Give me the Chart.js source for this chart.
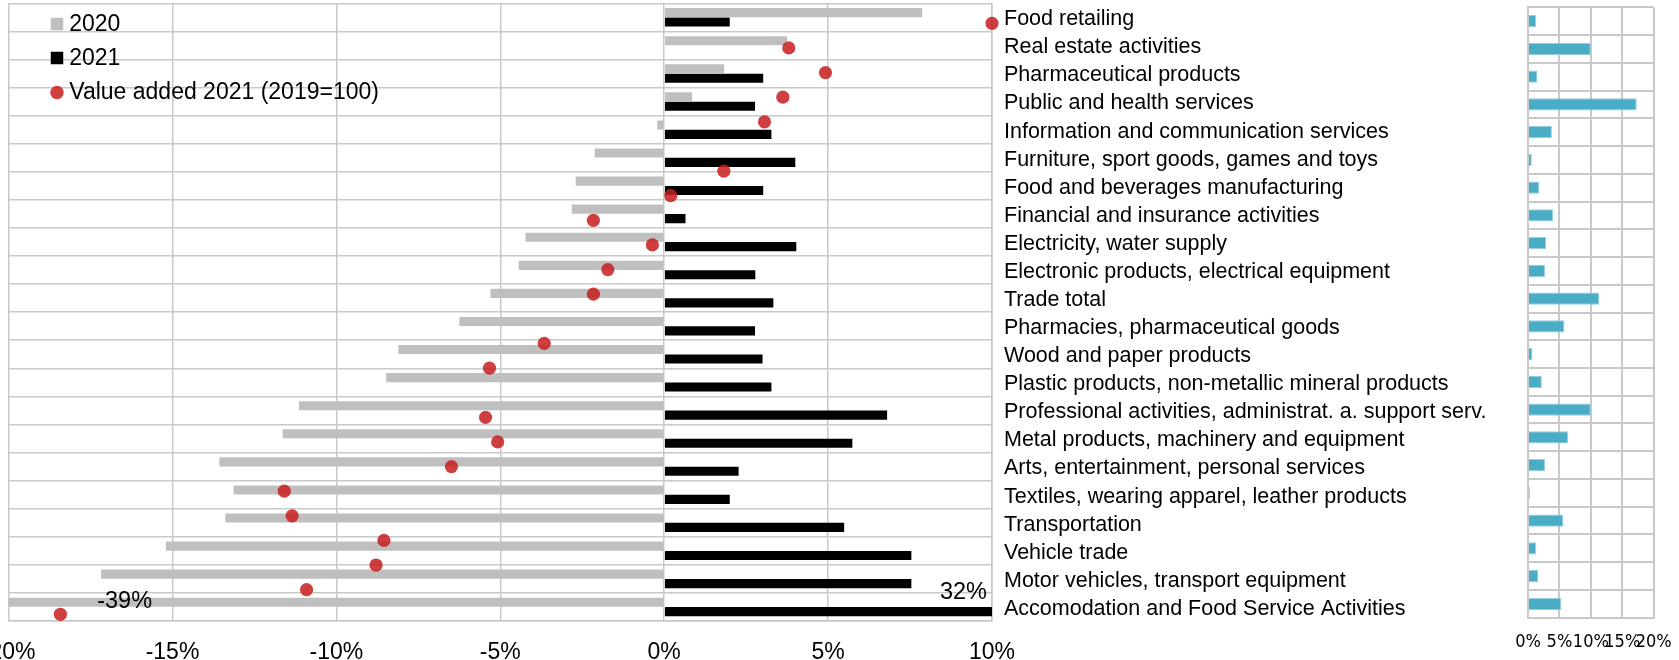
<!DOCTYPE html>
<html>
<head>
<meta charset="utf-8">
<script src="https://cdn.jsdelivr.net/npm/chart.js@4.4.1/dist/chart.umd.min.js"></script>
<style>
  html, body { margin: 0; padding: 0; background: #ffffff; }
  #wrap { position: relative; width: 1679px; height: 660px; overflow: hidden; background: #ffffff; }
  #growth, #valueAdded { position: absolute; left: 0; top: 0; }
  #share { position: absolute; left: 1490px; top: 0; }
</style>
</head>
<body>
<div id="wrap">
  <canvas id="growth" width="1679" height="660"></canvas>
  <canvas id="valueAdded" width="1679" height="660"></canvas>
  <canvas id="share" width="189" height="660"></canvas>
</div>
<script>
// Sectors, top to bottom
const categories = [
  'Food retailing',
  'Real estate activities',
  'Pharmaceutical products',
  'Public and health services',
  'Information and communication services',
  'Furniture, sport goods, games and toys',
  'Food and beverages manufacturing',
  'Financial and insurance activities',
  'Electricity, water supply',
  'Electronic products, electrical equipment',
  'Trade total',
  'Pharmacies, pharmaceutical goods',
  'Wood and paper products',
  'Plastic products, non-metallic mineral products',
  'Professional activities, administrat. a. support serv.',
  'Metal products, machinery and equipment',
  'Arts, entertainment, personal services',
  'Textiles, wearing apparel, leather products',
  'Transportation',
  'Vehicle trade',
  'Motor vehicles, transport equipment',
  'Accomodation and Food Service Activities'
];

// Growth rates in percent
const growth2020 = [7.87, 3.75, 1.83, 0.85, -0.21, -2.12, -2.70, -2.82, -4.23, -4.44, -5.30,
                    -6.25, -8.11, -8.48, -11.14, -11.64, -13.57, -13.14, -13.39, -15.20, -17.18, -39];
const growth2021 = [2.0, 0, 3.02, 2.77, 3.27, 4.0, 3.02, 0.65, 4.03, 2.78, 3.33,
                    2.77, 3.0, 3.27, 6.8, 5.74, 2.27, 2.0, 5.49, 7.54, 7.54, 32];

// Value added 2021 relative to 2019 (index - 100); its row list has three empty rows
const valueAddedRows = [
  'Food retailing', 'Real estate activities', 'Pharmaceutical products', 'Public and health services',
  'Information and communication services', '',
  'Furniture, sport goods, games and toys', 'Food and beverages manufacturing',
  'Financial and insurance activities', 'Electricity, water supply',
  'Electronic products, electrical equipment', 'Trade total', '',
  'Pharmacies, pharmaceutical goods', 'Wood and paper products', '',
  'Plastic products, non-metallic mineral products',
  'Professional activities, administrat. a. support serv.',
  'Metal products, machinery and equipment', 'Arts, entertainment, personal services',
  'Textiles, wearing apparel, leather products', 'Transportation', 'Vehicle trade',
  'Motor vehicles, transport equipment', 'Accomodation and Food Service Activities'
];
const valueAdded2021 = [10.0, 3.80, 4.92, 3.62, 3.06, null,
                        1.82, 0.20, -2.16, -0.36, -1.72, -2.16, null,
                        -3.66, -5.33, null,
                        -5.45, -5.08, -6.49, -11.59, -11.35, -8.55, -8.79, -10.91, -18.42];

// Share of each sector, percent
const shareOfTotal = [1.3, 10.0, 1.5, 17.3, 3.8, 0.6, 1.8, 4.0, 2.9, 2.7, 11.3,
                      5.8, 0.7, 2.2, 10.0, 6.4, 2.7, 0.3, 5.6, 1.3, 1.6, 5.3];

// Axis ranges (tick labels are these values with a % sign)
const growthAxis = { min: -20, max: 10, step: 5 };
const shareAxis = { min: 0, max: 20, step: 5 };

const FONT = "'Liberation Sans', Arial, Helvetica, sans-serif";
const NARROW = "'Liberation Sans Narrow', 'Arial Narrow', 'DejaVu Sans Condensed', sans-serif";
const GRID = '#C9C9C9';

// Plot box of the growth chart (canvas pixels)
const PLOT = { left: 8.6, top: 3.3, right: 992, bottom: 621, width: 1679, height: 660 };
// Vertical extent of the secondary row axis used by the value-added markers
const DOT_AXIS = { top: 11, bottom: 626.6 };

Chart.defaults.font.family = FONT;
Chart.defaults.color = '#000';

// Value labels for bars that run past the axis range
const outOfRangeLabels = {
  id: 'outOfRangeLabels',
  afterDatasetsDraw(chart, args, o) {
    const { ctx, chartArea, scales: { x } } = chart;
    ctx.save();
    ctx.font = `${o.size}px ${FONT}`;
    ctx.fillStyle = '#000';
    ctx.textBaseline = 'alphabetic';
    chart.data.datasets.forEach((ds, di) => {
      const meta = chart.getDatasetMeta(di);
      meta.data.forEach((bar, i) => {
        const v = ds.data[i];
        if (v == null) return;
        const text = `${v}%`;
        if (v > x.max) {
          ctx.textAlign = 'right';
          ctx.fillText(text, chartArea.right - 5, bar.y - bar.height / 2 - 8);
        } else if (v < x.min) {
          ctx.textAlign = 'center';
          ctx.fillText(text, chartArea.left + 116, bar.y + bar.height / 2 + 1);
        }
      });
    });
    ctx.restore();
  }
};

const growthChart = new Chart(document.getElementById('growth'), {
  type: 'bar',
  data: {
    labels: categories,
    datasets: [
      { label: '2020', data: growth2020, backgroundColor: '#BFBFBF',
        barPercentage: 0.97, categoryPercentage: 0.67 },
      { label: '2021', data: growth2021, backgroundColor: '#000000',
        barPercentage: 0.97, categoryPercentage: 0.67 }
    ]
  },
  options: {
    indexAxis: 'y',
    responsive: false,
    animation: false,
    events: [],
    layout: { autoPadding: false, padding: { left: PLOT.left, top: PLOT.top, right: 0, bottom: 0 } },
    plugins: {
      legend: { display: false },
      tooltip: { enabled: false },
      outOfRangeLabels: { size: 23.5 }
    },
    scales: {
      x: {
        min: growthAxis.min, max: growthAxis.max,
        ticks: { stepSize: growthAxis.step, callback: v => `${v}%`, font: { size: 23 },
                 padding: 17.5, maxRotation: 0, autoSkip: false },
        grid: { color: GRID, lineWidth: 1.5, drawTicks: false },
        border: { color: GRID, width: 1.5 },
        afterFit(s) { s.paddingLeft = 0; s.paddingRight = 0; s.height = PLOT.height - PLOT.bottom; }
      },
      y: {
        position: 'right',
        offset: true,
        grid: { offset: true, color: GRID, lineWidth: 1.5, drawTicks: false },
        border: { color: GRID, width: 1.5 },
        ticks: { font: { size: 21.5 }, padding: 12, labelOffset: 2, autoSkip: false },
        afterFit(s) { s.paddingTop = 0; s.paddingBottom = 0; s.width = PLOT.width - PLOT.right; }
      }
    }
  },
  plugins: [outOfRangeLabels]
});

// Legend inside the plot, top-left corner
const cornerLegend = {
  id: 'cornerLegend',
  afterDraw(chart, args, o) {
    const ctx = chart.ctx;
    const items = [...growthChart.data.datasets, ...chart.data.datasets];
    ctx.save();
    ctx.font = `${o.size}px ${FONT}`;
    ctx.textBaseline = 'middle';
    ctx.textAlign = 'left';
    items.forEach((ds, i) => {
      const cy = o.y + i * o.gap;
      const cx = o.x;
      if (ds.type === 'line') {
        ctx.fillStyle = ds.pointBackgroundColor;
        ctx.beginPath();
        ctx.arc(cx, cy + 0.5, o.box / 2 + 0.5, 0, Math.PI * 2);
        ctx.fill();
      } else {
        ctx.fillStyle = ds.backgroundColor;
        ctx.fillRect(cx - o.box / 2, cy - o.box / 2, o.box, o.box);
      }
      ctx.fillStyle = '#000';
      ctx.fillText(ds.label, cx + o.box / 2 + o.textGap, cy + 1);
    });
    ctx.restore();
  }
};

// Value-added markers: same x scale as the bars, own row axis
new Chart(document.getElementById('valueAdded'), {
  type: 'line',
  data: {
    labels: valueAddedRows,
    datasets: [
      { type: 'line', label: 'Value added 2021 (2019=100)', data: valueAdded2021,
        showLine: false, clip: false, spanGaps: false,
        pointRadius: 6.6, pointHoverRadius: 6.6, pointBorderWidth: 0,
        pointBackgroundColor: 'rgba(200,32,32,0.86)', borderColor: 'rgba(0,0,0,0)' }
    ]
  },
  options: {
    indexAxis: 'y',
    responsive: false,
    animation: false,
    events: [],
    layout: {
      autoPadding: false,
      padding: { left: PLOT.left, top: DOT_AXIS.top, right: PLOT.width - PLOT.right,
                 bottom: PLOT.height - DOT_AXIS.bottom }
    },
    plugins: {
      legend: { display: false },
      tooltip: { enabled: false },
      cornerLegend: { x: 57, y: 24, gap: 34, box: 12.5, textGap: 6, size: 23 }
    },
    scales: {
      x: { type: 'linear', min: growthAxis.min, max: growthAxis.max, display: false },
      y: { type: 'category', offset: true, display: false }
    }
  },
  plugins: [cornerLegend]
});

new Chart(document.getElementById('share'), {
  type: 'bar',
  data: {
    labels: categories,
    datasets: [
      { label: 'Share', data: shareOfTotal, backgroundColor: '#4BACC6',
        borderColor: '#92CEDF', borderWidth: 1,
        barPercentage: 1, categoryPercentage: 0.44 }
    ]
  },
  options: {
    indexAxis: 'y',
    responsive: false,
    animation: false,
    events: [],
    layout: { autoPadding: false, padding: { left: 38, right: 25.3, top: 7.3, bottom: 0 } },
    plugins: { legend: { display: false }, tooltip: { enabled: false } },
    scales: {
      x: {
        min: shareAxis.min, max: shareAxis.max,
        ticks: { stepSize: shareAxis.step, callback: v => `${v}%`,
                 font: { family: NARROW, size: 18 }, padding: 14, maxRotation: 0, autoSkip: false },
        grid: { color: GRID, lineWidth: 2, drawTicks: false },
        border: { color: GRID, width: 2 },
        afterFit(s) { s.paddingLeft = 0; s.paddingRight = 0; s.height = 42.3; }
      },
      y: {
        grid: { offset: true, color: GRID, lineWidth: 2, drawTicks: false },
        border: { color: GRID, width: 2 },
        ticks: { display: false },
        afterFit(s) { s.width = 0; }
      }
    }
  }
});
</script>
</body>
</html>
